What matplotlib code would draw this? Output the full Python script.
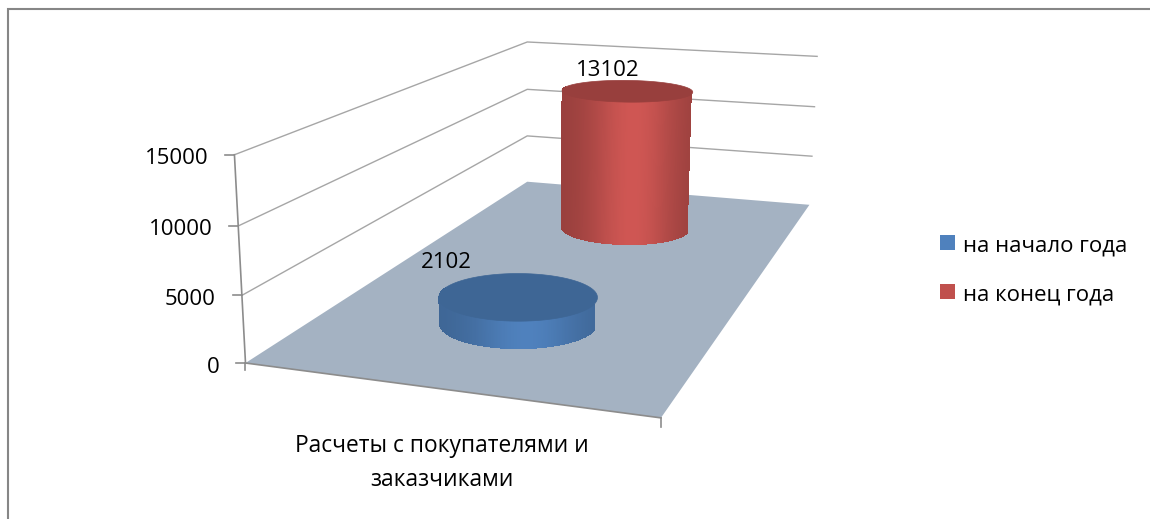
import numpy as np
import matplotlib
matplotlib.use('Agg')
import matplotlib.pyplot as plt
from matplotlib.patches import Polygon, Rectangle

plt.rcParams['font.family'] = ['Open Sans', 'DejaVu Sans']

series_names = ['на начало года', 'на конец года']
series_values = [2102, 13102]
series_colors = ['#4f81bd', '#c0504d']
z_ticks = [0, 5000, 10000, 15000]
category = 'Расчеты с покупателями и\nзаказчиками'

# chart box corners seen in the picture: world (x, depth, value) -> pixel
world = [(0, 0, 0), (1, 0, 0), (1, 1, 0), (0, 1, 0),
         (0, 0, 5000), (0, 0, 10000), (0, 0, 15000),
         (0, 1, 5000), (0, 1, 10000), (0, 1, 15000),
         (1, 1, 5000), (1, 1, 10000), (1, 1, 15000)]
pixel = [(245, 363), (661, 418), (809, 204), (528, 182),
         (242, 295), (238, 226), (235, 155),
         (527, 136), (527, 89), (527, 42),
         (812, 157), (815, 107), (817, 56)]


def fit_camera(world_pts, pixel_pts):
    rows = []
    for (x, y, z), (u, v) in zip(world_pts, pixel_pts):
        z = z / 15000
        rows.append([x, y, z, 1, 0, 0, 0, 0, -u * x, -u * y, -u * z, -u])
        rows.append([0, 0, 0, 0, x, y, z, 1, -v * x, -v * y, -v * z, -v])
    return np.linalg.svd(np.array(rows))[2][-1].reshape(3, 4)


cam = fit_camera(world, pixel)


def project(x, y, z):
    x, y, z = np.broadcast_arrays(np.asarray(x, float), np.asarray(y, float), np.asarray(z, float))
    p = np.stack([x, y, z / 15000, np.ones_like(x)])
    q = np.tensordot(cam, p, axes=1)
    return np.stack([q[0] / q[2], q[1] / q[2]], axis=-1)


def shade(color, k):
    c = np.array(matplotlib.colors.to_rgb(color))
    return tuple(np.clip(c * k, 0, 1))


def cylinder(ax, cx, cy, value, color, peak, rx=0.20, ry=0.10, z=5):
    t = np.linspace(0, 2 * np.pi, 361)
    xs = cx + rx * np.cos(t)
    ys = cy + ry * np.sin(t)
    bottom = project(xs, ys, 0)
    top = project(xs, ys, value)
    xmin, xmax = top[:, 0].min(), top[:, 0].max()
    for i in range(len(t) - 1):
        quad = [bottom[i], bottom[i + 1], top[i + 1], top[i]]
        # only the front half of the wall is seen
        if np.sin((t[i] + t[i + 1]) / 2) > 0.02:
            continue
        pos = (top[i, 0] - xmin) / (xmax - xmin)
        k = 0.78 + peak * np.exp(-((pos - 0.55) / 0.33) ** 2)
        ax.add_patch(Polygon(quad, closed=True, fc=shade(color, k), ec='none', antialiased=False, zorder=z))
    ax.add_patch(Polygon(top, closed=True, fc=shade(color, 0.79), ec=shade(color, 0.79), lw=0.5, zorder=z + 1))


fig = plt.figure(figsize=(11.5, 5.19), dpi=100)
ax = fig.add_axes([0, 0, 1, 1])
ax.set_xlim(0, 1150)
ax.set_ylim(519, 0)
ax.axis('off')

# outer chart border
ax.plot([8, 8, 1150], [519, 9, 9], color='#868686', lw=1.5, solid_joinstyle='miter', zorder=1)

# gridlines on both walls
grid = '#a6a6a6'
for v in z_ticks[1:]:
    pts = project([0, 0, 1], [0, 1, 1], [v, v, v])
    ax.plot(pts[:, 0], pts[:, 1], color=grid, lw=1.0, zorder=2)

# floor
floor = project([0, 1, 1, 0], [0, 0, 1, 1], [0, 0, 0, 0])
ax.add_patch(Polygon(floor, closed=True, fc='#a4b2c2', ec='none', zorder=3))
edge = project([0, 1], [0, 0], [0, 0])
ax.plot(edge[:, 0], edge[:, 1], color='#8c8c8c', lw=1.2, zorder=4)

# value axis with ticks
axis_pts = project([0, 0], [0, 0], [0, 15000])
ax.plot(axis_pts[:, 0], axis_pts[:, 1], color='#8c8c8c', lw=1.2, zorder=4)
for v in z_ticks:
    u, w = project(0, 0, v)
    ax.plot([u - 9, u], [w, w], color='#8c8c8c', lw=1.2, zorder=4)
    ax.text(u - 26, w + 4, str(v), ha='right', va='center', fontsize=16, color='black')
u, w = project(1, 0, 0)
ax.plot([u, u], [w, w + 9], color='#8c8c8c', lw=1.2, zorder=4)
u, w = project(0, 0, 0)
ax.plot([u, u], [w, w + 7], color='#8c8c8c', lw=1.2, zorder=4)

# cylinders, back one first
depths = [0.25, 0.75]
peaks = [0.22, 0.30]
for i in [1, 0]:
    cylinder(ax, 0.5, depths[i], series_values[i], series_colors[i], peaks[i], z=5 + (1 - i) * 2)

label_pos = [(446, 262), (608, 70)]
for v, (u, w) in zip(series_values, label_pos):
    ax.text(u, w, str(v), ha='center', va='center', fontsize=16, color='black', zorder=10)

ax.text(442, 463, category, ha='center', va='center', fontsize=16.4, color='black', linespacing=1.5)

# legend
for name, col, w in zip(series_names, series_colors, [242.5, 291]):
    ax.add_patch(Rectangle((940, w - 7.5), 15, 15, fc=col, ec='none'))
    ax.text(963, w + 4, name, ha='left', va='center', fontsize=16, color='black')

fig.savefig('out.png', dpi=100)
